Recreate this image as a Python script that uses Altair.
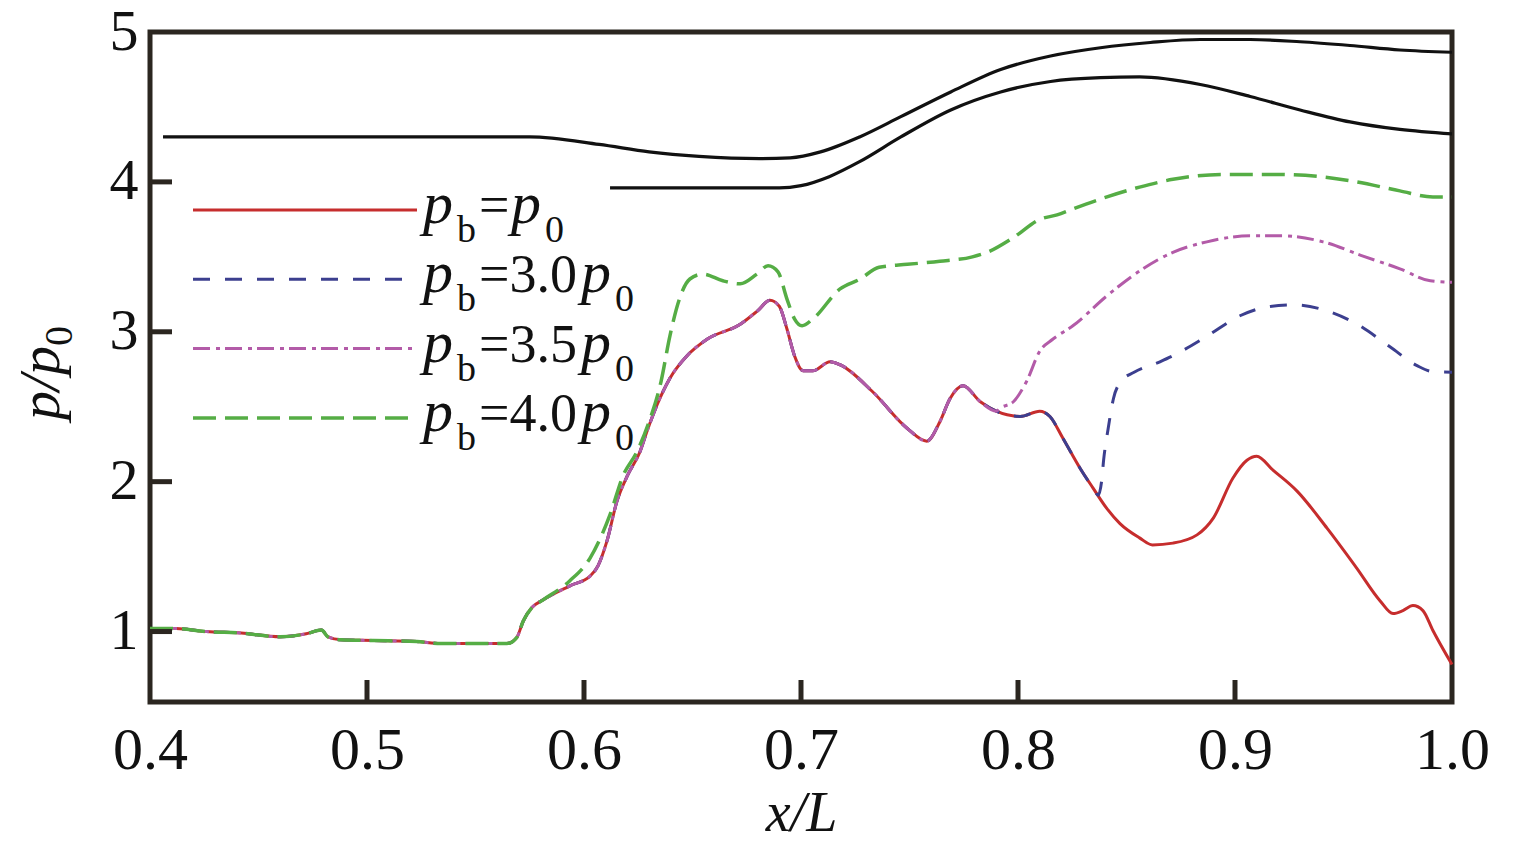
import altair as alt
import pandas as pd

# values (x/L, p/p0)
red_x = [0.400, 0.412, 0.426, 0.442, 0.460, 0.472, 0.479, 0.482, 0.488, 0.503, 0.523, 0.534,
         0.5645, 0.569, 0.572, 0.576, 0.581, 0.5935, 0.6028, 0.6065, 0.6106, 0.6152, 0.620,
         0.6258, 0.629, 0.6336, 0.6396, 0.6475, 0.6567, 0.672, 0.680, 0.6857, 0.690, 0.6935,
         0.697, 0.701, 0.7055, 0.7134, 0.718, 0.733, 0.749, 0.758, 0.764, 0.7687, 0.7747,
         0.7825, 0.790, 0.801, 0.810, 0.8147, 0.8207, 0.8286, 0.8346, 0.841, 0.847, 0.856,
         0.862, 0.8714, 0.8825, 0.890, 0.899, 0.9055, 0.910, 0.9175, 0.9286, 0.9424, 0.956,
         0.9668, 0.9728, 0.9774, 0.982, 0.9866, 0.9912, 1.000]
red_y = [1.02, 1.02, 1.00, 0.99, 0.965, 0.985, 1.01, 0.965, 0.945, 0.94, 0.933, 0.92,
         0.92, 0.96, 1.07, 1.16, 1.21, 1.305, 1.37, 1.44, 1.605, 1.87, 2.04,
         2.20, 2.335, 2.51, 2.69, 2.84, 2.95, 3.05, 3.14, 3.21, 3.17, 3.02,
         2.84, 2.74, 2.74, 2.80, 2.78, 2.60, 2.355, 2.27, 2.40, 2.555, 2.64,
         2.535, 2.47, 2.435, 2.47, 2.435, 2.29, 2.09, 1.957, 1.82, 1.72, 1.625,
         1.578, 1.59, 1.645, 1.757, 2.023, 2.143, 2.17, 2.077, 1.937, 1.69, 1.425,
         1.206, 1.12, 1.14, 1.173, 1.14, 1.007, 0.78]

# the other cases follow the red curve up to where they split off
blue_split = 0.8346
blue_tail_x = [0.837, 0.8385, 0.8395, 0.8415, 0.844, 0.8475, 0.8535, 0.8654, 0.8714, 0.887,
               0.9023, 0.9147, 0.9267, 0.9424, 0.956, 0.9714, 0.9839, 0.9912, 1.0]
blue_tail_y = [1.91, 2.0, 2.15, 2.35, 2.555, 2.67, 2.73, 2.80, 2.84, 2.97,
               3.107, 3.166, 3.18, 3.14, 3.053, 2.90, 2.774, 2.734, 2.73]

purple_split = 0.790
purple_tail_x = [0.7917, 0.798, 0.804, 0.810, 0.816, 0.8253, 0.841, 0.856, 0.8714, 0.887,
                 0.907, 0.922, 0.9406, 0.959, 0.976, 0.990, 1.0]
purple_tail_y = [2.49, 2.535, 2.67, 2.87, 2.95, 3.04, 3.24, 3.405, 3.53, 3.60,
                 3.64, 3.64, 3.60, 3.505, 3.42, 3.34, 3.33]

green_split = 0.581
green_tail_x = [0.5935, 0.6028, 0.612, 0.618, 0.6244, 0.630, 0.6355, 0.6396, 0.644, 0.6488,
                0.6548, 0.664, 0.672, 0.6797, 0.6848, 0.6894, 0.6935, 0.697, 0.7005, 0.7055,
                0.718, 0.727, 0.736, 0.749, 0.764, 0.779, 0.7857, 0.798, 0.810, 0.818,
                0.8253, 0.841, 0.856, 0.8714, 0.8945, 0.9175, 0.9378, 0.9562, 0.976, 0.9912, 1.0]
green_tail_y = [1.339, 1.49, 1.78, 2.04, 2.20, 2.40, 2.668, 2.973, 3.22, 3.352,
                3.385, 3.34, 3.32, 3.385, 3.44, 3.40, 3.22, 3.086, 3.04, 3.086,
                3.286, 3.35, 3.43, 3.45, 3.47, 3.50, 3.53, 3.63, 3.75, 3.78,
                3.82, 3.90, 3.965, 4.017, 4.05, 4.05, 4.037, 4.0, 3.94, 3.90, 3.90]

# duct walls (black)
upper_x = [0.406, 0.45, 0.50, 0.55, 0.575, 0.607, 0.630, 0.653, 0.681, 0.695, 0.709, 0.727,
           0.746, 0.769, 0.792, 0.815, 0.838, 0.861, 0.884, 0.907, 0.930, 0.953, 0.976, 1.0]
upper_y = [4.30, 4.30, 4.30, 4.30, 4.30, 4.25, 4.20, 4.17, 4.155, 4.16, 4.20, 4.30,
           4.435, 4.60, 4.75, 4.84, 4.895, 4.93, 4.95, 4.95, 4.935, 4.91, 4.88, 4.865]
lower_x = [0.612, 0.65, 0.690, 0.700, 0.713, 0.727, 0.746, 0.769, 0.792, 0.815, 0.838,
           0.856, 0.884, 0.907, 0.930, 0.953, 0.976, 1.0]
lower_y = [3.96, 3.96, 3.96, 3.975, 4.035, 4.135, 4.30, 4.48, 4.60, 4.67, 4.695,
           4.70, 4.65, 4.57, 4.48, 4.40, 4.35, 4.32]

x_ticks = [0.4, 0.5, 0.6, 0.7, 0.8, 0.9, 1.0]
y_ticks = [1, 2, 3, 4, 5]
legend_values = ["=", "=3.0", "=3.5", "=4.0"]

W, H = 1302, 670
FRAME = "#2b2620"
INK = "#111111"
SERIF = "Liberation Serif"

# color, width, dash for each case
styles = [
    ("#c62d2d", 3, None),
    ("#3c3f8f", 3, [17, 15]),
    ("#b35ba8", 3, [17, 6, 4, 5]),
    ("#55ad45", 3.5, [23, 9]),
]


def xenc():
    return alt.X("x:Q", scale=alt.Scale(domain=[0.4, 1.0], nice=False, zero=False),
                 axis=alt.Axis(values=x_ticks, format=".1f", ticks=False, tickSize=0,
                               domain=False, grid=False, labelFlush=False,
                               labelFont=SERIF, labelFontSize=60, labelColor=INK,
                               labelPadding=19, title="x/L", titleFont=SERIF,
                               titleFontSize=56, titleFontStyle="italic",
                               titleFontWeight="normal", titleColor=INK, titlePadding=6))


def yenc():
    return alt.Y("y:Q", scale=alt.Scale(domain=[0.53, 5.0], nice=False, zero=False),
                 axis=alt.Axis(values=y_ticks, format="d", ticks=False, tickSize=0,
                               domain=False, grid=False, labelFlush=False,
                               labelFont=SERIF, labelFontSize=58, labelColor=INK,
                               labelPadding=12, title=""))


def curve(xs, ys, color, width, dash=None):
    props = dict(color=color, strokeWidth=width, interpolate="monotone", strokeCap="butt")
    if dash:
        props["strokeDash"] = dash
    df = pd.DataFrame({"x": xs, "y": ys})
    return alt.Chart(df).mark_line(**props).encode(x=xenc(), y=yenc())


def branch(split, tail_x, tail_y):
    n = len([v for v in red_x if v <= split])
    return red_x[:n] + tail_x, red_y[:n] + tail_y


def text(s, x, y, size, italic=False, angle=0):
    props = dict(text=s, font=SERIF, fontSize=size, align="left",
                 baseline="alphabetic", color=INK)
    if italic:
        props["fontStyle"] = "italic"
    if angle:
        props["angle"] = angle
    return alt.Chart(pd.DataFrame({"k": [0]})).mark_text(**props).encode(
        x=alt.value(x), y=alt.value(y))


layers = [
    curve(upper_x, upper_y, INK, 3.2),
    curve(lower_x, lower_y, INK, 3.2),
    curve(red_x, red_y, *styles[0]),
    curve(*branch(blue_split, blue_tail_x, blue_tail_y), *styles[1]),
    curve(*branch(purple_split, purple_tail_x, purple_tail_y), *styles[2]),
    curve(*branch(green_split, green_tail_x, green_tail_y), *styles[3]),
]

# inward ticks
layers.append(alt.Chart(pd.DataFrame({"y": y_ticks[:-1]})).mark_rule(
    color=FRAME, strokeWidth=5).encode(y=yenc(), x=alt.value(0), x2=alt.value(22)))
layers.append(alt.Chart(pd.DataFrame({"x": x_ticks[1:-1]})).mark_rule(
    color=FRAME, strokeWidth=5).encode(x=xenc(), y=alt.value(H), y2=alt.value(H - 22)))

# legend, drawn by hand so the labels can carry subscripts
row_gap = 69.3
for i, (color, width, dash) in enumerate(styles):
    ly = 178 + row_gap * i
    base = ly + 13
    props = dict(color=color, strokeWidth=width, strokeCap="butt")
    if dash:
        props["strokeDash"] = dash
    layers.append(alt.Chart(pd.DataFrame({"k": [0]})).mark_rule(**props).encode(
        x=alt.value(43), x2=alt.value(267), y=alt.value(ly)))
    layers.append(text("p", 273, base, 60, italic=True))
    layers.append(text("b", 307, base + 19, 38))
    layers.append(text(legend_values[i], 329, base, 54))
    px = 361 if i == 0 else 431
    layers.append(text("p", px, base, 60, italic=True))
    layers.append(text("0", px + 34, base + 19, 38))

# y title p/p0, rotated
layers.append(text("p/p", -91, 388, 58, italic=True, angle=270))
layers.append(text("0", -78, 314, 40, angle=270))

chart = alt.layer(*layers).properties(
    width=W, height=H,
    autosize=alt.AutoSizeParams(type="none"),
    padding={"left": 142, "top": 24, "right": 40, "bottom": 148},
    background="white",
).configure_view(stroke=FRAME, strokeWidth=5)

chart.save("out.html", embed_options={"renderer": "svg", "actions": False})
